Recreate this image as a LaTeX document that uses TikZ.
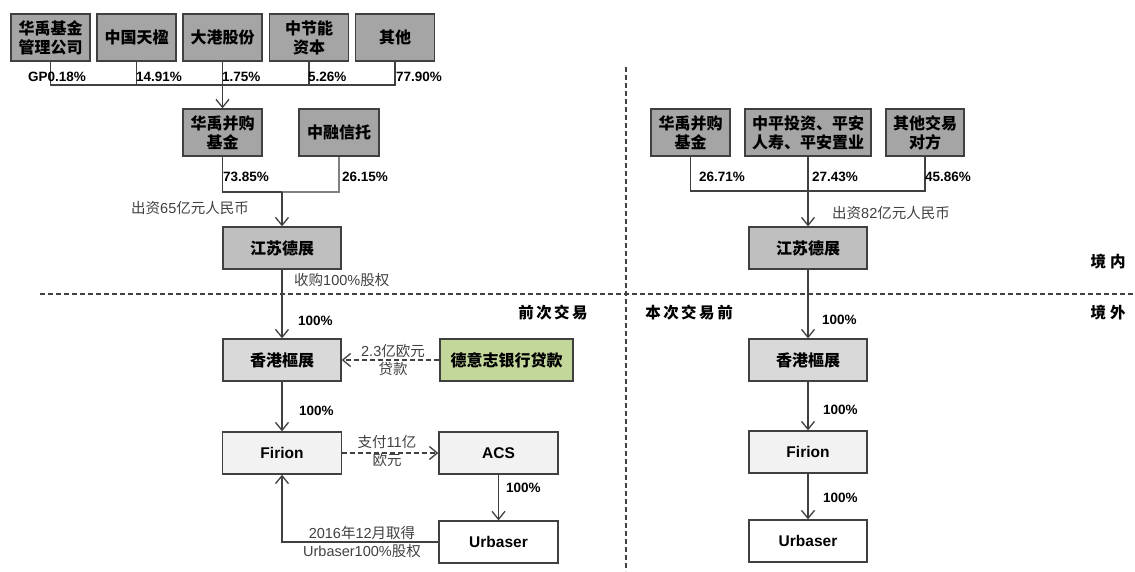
\documentclass[tikz,border=0pt]{standalone}
\usepackage{fontspec}
\setmainfont{Liberation Sans}
\newfontfamily\cjk{Noto Sans CJK SC}
\usetikzlibrary{arrows.meta}
\definecolor{lc}{HTML}{404040}
\definecolor{lc2}{HTML}{808080}
\definecolor{dk}{HTML}{A5A5A5}
\definecolor{md}{HTML}{BFBFBF}
\definecolor{lt}{HTML}{D9D9D9}
\definecolor{vl}{HTML}{F2F2F2}
\definecolor{gr}{HTML}{C4D79B}
\definecolor{tx}{HTML}{404040}
\begin{document}
\begin{tikzpicture}[x=1pt,y=-1pt,
  box/.style={draw=lc, line width=1.3pt, minimum height=47pt, inner sep=0pt, align=center,
    font=\cjk\bfseries\fontsize{16}{19}\selectfont, text=black},
  lbox/.style={box, minimum height=42pt, font=\bfseries\fontsize{15.5}{19}\selectfont},
  pct/.style={anchor=west, inner sep=0pt, font=\bfseries\fontsize{13.5}{16}\selectfont, text=black},
  glab/.style={inner sep=0pt, align=center, font=\fontsize{14.5}{18}\selectfont, text=tx},
  zone/.style={inner sep=0pt, font=\cjk\bfseries\fontsize{15.5}{18}\selectfont, text=black},
  ln/.style={draw=lc, line width=1.3pt},
  arr/.style={ln, -{Straight Barb[length=8pt,width=13pt]}},
  darr/.style={arr, dash pattern=on 5pt off 3pt},
  sep/.style={draw=lc, line width=1.3pt, dash pattern=on 5pt off 3pt}
]
\useasboundingbox (0,0) rectangle (1135,571);

% separators
\coordinate (sl) at (40,294);
\coordinate (sr) at (1135,294);
\coordinate (vt) at (626,67);
\coordinate (vb) at (626,571);
\draw[sep] (sl) -- (sr);
\draw[sep] (vt) -- (vb);

% top row
\node[box, fill=dk, minimum width=79pt] (b1) at (50.5,37.5) {华禹基金\\管理公司};
\node[box, fill=dk, minimum width=79pt] (b2) at (136.5,37.5) {中国天楹};
\node[box, fill=dk, minimum width=79pt] (b3) at (222.5,37.5) {大港股份};
\node[box, fill=dk, minimum width=79pt] (b4) at (309,37.5) {中节能\\资本};
\node[box, fill=dk, minimum width=79pt] (b5) at (395,37.5) {其他};

\coordinate (h1) at (0,85);
\draw[ln] (b1.south) |- (b5.south |- h1) -- (b5.south);
\draw[ln] (b2.south) -- (b2.south |- h1);
\draw[ln] (b4.south) -- (b4.south |- h1);

\node[pct] (p1) at (28,77) {GP0.18\%};
\node[pct] (p2) at (136,77) {14.91\%};
\node[pct] (p3) at (222,77) {1.75\%};
\node[pct] (p4) at (308,77) {5.26\%};
\node[pct] (p5) at (396,77) {77.90\%};

% second row left
\node[box, fill=dk, minimum width=79pt] (hy) at (222.5,132.5) {华禹并购\\基金};
\node[box, fill=dk, minimum width=80pt] (zr) at (339,132.5) {中融信托};
\draw[arr] (b3.south) -- (hy.north);

\coordinate (h2) at (0,192);
\draw[ln] (hy.south) -- (hy.south |- h2) -- (282,192);
\draw[draw=lc2, line width=1.3pt] (zr.south) -- (zr.south |- h2) -- (282,192);
\node[pct] (p6) at (223,177) {73.85\%};
\node[pct] (p7) at (342,177) {26.15\%};

% left chain
\node[box, fill=md, minimum width=118pt, minimum height=42pt] (js) at (282,248) {江苏德展};
\node[box, fill=lt, minimum width=118pt, minimum height=42pt] (hk) at (282,360) {香港樞展};
\node[lbox, fill=vl, minimum width=119pt] (fir) at (282,453) {Firion};
\node[lbox, fill=vl, minimum width=119pt] (acs) at (498.5,453) {ACS};
\node[lbox, fill=white, minimum width=119pt] (urb) at (498.5,542) {Urbaser};
\node[box, fill=gr, minimum width=133pt, minimum height=42pt] (db) at (506.5,360) {德意志银行贷款};

\draw[arr] (js.north |- h2) -- (js.north);
\draw[arr] (js.south) -- (hk.north);
\draw[arr] (hk.south) -- (fir.north);
\draw[arr] (acs.south) -- (urb.north);
\draw[arr] (urb.west) -| (fir.south);
\draw[darr] (db.west) -- (hk.east);
\draw[darr] (fir.east) -- (acs.west);

\node[glab, anchor=west] (g1) at (131,208) {{\cjk 出资}65{\cjk 亿元人民币}};
\node[glab, anchor=west] (g2) at (294,280) {{\cjk 收购}100\%{\cjk 股权}};
\node[pct] (p8) at (298,321) {100\%};
\node[glab] (g3) at (393,360) {2.3{\cjk 亿欧元}\\{\cjk 贷款}};
\node[pct] (p9) at (299,411) {100\%};
\node[glab] (g4) at (387,451) {{\cjk 支付}11{\cjk 亿}\\{\cjk 欧元}};
\node[pct] (p10) at (506,488) {100\%};
\node[glab] (g5) at (362,542) {2016{\cjk 年}12{\cjk 月取得}\\Urbaser100\%{\cjk 股权}};

% right side
\node[box, fill=dk, minimum width=79pt] (r1) at (690.5,132.5) {华禹并购\\基金};
\node[box, fill=dk, minimum width=126pt] (r2) at (808,132.5) {中平投资、平安\\人寿、平安置业};
\node[box, fill=dk, minimum width=78pt] (r3) at (925,132.5) {其他交易\\对方};
\coordinate (h3) at (0,191);
\draw[ln] (r1.south) |- (r3.south |- h3) -- (r3.south);

\node[box, fill=md, minimum width=118pt, minimum height=42pt] (rjs) at (808,248) {江苏德展};
\node[box, fill=lt, minimum width=118pt, minimum height=42pt] (rhk) at (808,360) {香港樞展};
\node[lbox, fill=vl, minimum width=118pt] (rfir) at (808,452) {Firion};
\node[lbox, fill=white, minimum width=118pt] (rurb) at (808,541) {Urbaser};
\draw[arr] (r2.south) -- (rjs.north);
\draw[arr] (rjs.south) -- (rhk.north);
\draw[arr] (rhk.south) -- (rfir.north);
\draw[arr] (rfir.south) -- (rurb.north);

\node[pct] (q1) at (699,177) {26.71\%};
\node[pct] (q2) at (812,177) {27.43\%};
\node[pct] (q3) at (925,177) {45.86\%};
\node[glab, anchor=west] (g6) at (832,213) {{\cjk 出资}82{\cjk 亿元人民币}};
\node[pct] (q4) at (822,320) {100\%};
\node[pct] (q5) at (823,410) {100\%};
\node[pct] (q6) at (823,498) {100\%};

% zone labels
\node[zone] (z1) at (553,313) {前\hspace{2.5pt}次\hspace{2.5pt}交\hspace{2.5pt}易};
\node[zone] (z2) at (689,313) {本\hspace{2.5pt}次\hspace{2.5pt}交\hspace{2.5pt}易\hspace{2.5pt}前};
\node[zone] (z3) at (1108,262) {境\hspace{4pt}内};
\node[zone] (z4) at (1108,313) {境\hspace{4pt}外};
\end{tikzpicture}
\end{document}
